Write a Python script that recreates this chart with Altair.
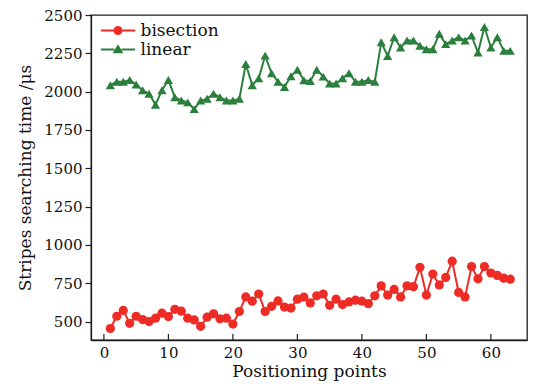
import altair as alt
import pandas as pd

positions = list(range(1, 64))
bisection = [455, 535, 573, 489, 535, 513, 500, 522, 555, 533,
             580, 568, 522, 511, 469, 529, 551, 518, 522, 484,
             566, 661, 633, 680, 566, 600, 635, 595, 588, 646,
             660, 622, 668, 680, 606, 646, 611, 628, 640, 633,
             617, 668, 733, 673, 710, 661, 733, 728, 854, 673,
             810, 739, 788, 894, 690, 661, 859, 779, 859, 817,
             801, 783, 777]
linear = [2042, 2064, 2064, 2076, 2047, 2009, 1987, 1915, 2009, 2076,
          1964, 1942, 1930, 1886, 1942, 1953, 1987, 1964, 1942, 1942,
          1953, 2180, 2042, 2087, 2235, 2120, 2064, 2031, 2100, 2143,
          2075, 2070, 2143, 2098, 2053, 2053, 2087, 2120, 2064, 2064,
          2076, 2064, 2322, 2232, 2355, 2288, 2333, 2333, 2299, 2277,
          2277, 2377, 2310, 2333, 2355, 2333, 2366, 2255, 2422, 2288,
          2355, 2266, 2266]
series_names = ["bisection", "linear"]
x_ticks = [0, 10, 20, 30, 40, 50, 60]
y_ticks = [500, 750, 1000, 1250, 1500, 1750, 2000, 2250, 2500]

df = pd.DataFrame({
    "x": positions + positions,
    "y": bisection + linear,
    "series": [series_names[0]] * len(bisection) + [series_names[1]] * len(linear),
})
ticks_df = pd.DataFrame({"x": x_ticks})

colors = ["#ee2b24", "#2b7f3d"]
font = "DejaVu Serif"
ink = "#1e1e1e"

xscale = alt.Scale(domain=[-2, 65.6], nice=False, zero=False)
yscale = alt.Scale(domain=[380, 2500], nice=False, zero=False)

xenc = alt.X("x:Q", scale=xscale,
             axis=alt.Axis(values=x_ticks, title="Positioning points", tickSize=0, format="d",
                           labelPadding=5, titlePadding=3, grid=False))
yenc = alt.Y("y:Q", scale=yscale,
             axis=alt.Axis(values=y_ticks, title="Stripes searching time /μs", tickSize=6, format="d",
                           labelPadding=3, titlePadding=9, grid=False))
color_plain = alt.Color("series:N", scale=alt.Scale(domain=series_names, range=colors), legend=None)

lines = alt.Chart(df).mark_line(strokeWidth=2).encode(x=xenc, y=yenc, color=color_plain)
points = alt.Chart(df).mark_point(filled=True, opacity=1, size=85).encode(
    x=xenc, y=yenc, color=color_plain,
    shape=alt.Shape("series:N", scale=alt.Scale(domain=series_names, range=["circle", "triangle-up"]), legend=None),
)

inner_ticks = alt.Chart(ticks_df).mark_rule(color=ink, strokeWidth=1.2).encode(
    x=xenc, y=alt.value(325), y2=alt.value(319)
)

legend_paths = [
    "M-3.8,-0.2H-0.95V0.2H-3.8Z M0.95,-0.2H3.8V0.2H0.95Z M1,0A1,1 0 1,1 -1,0A1,1 0 1,1 1,0Z",
    "M-3.8,-0.2H-0.8V0.2H-3.8Z M0.8,-0.2H3.8V0.2H0.8Z M0,-1.15L1.2,0.85L-1.2,0.85Z",
]
leg = alt.Legend(title=None, orient="none", legendX=18.5, legendY=7, labelFont=font,
                 labelFontSize=17, labelOffset=14, labelColor="#111", symbolSize=81,
                 rowPadding=1, padding=0)
legend_layer = alt.Chart(df).transform_filter("false").mark_point(filled=True, size=81, opacity=1).encode(
    x=xenc, y=yenc,
    color=alt.Color("series:N", scale=alt.Scale(domain=series_names, range=colors), legend=leg),
    shape=alt.Shape("series:N", scale=alt.Scale(domain=series_names, range=legend_paths), legend=leg),
)

chart = alt.layer(lines, points, inner_ticks, legend_layer).resolve_scale(
    color="independent", shape="independent"
).properties(
    width=436, height=325, background="white",
    padding={"left": 91, "top": 15, "right": 7, "bottom": 50},
    autosize=alt.AutoSizeParams(type="none"),
).configure_view(
    stroke=ink, strokeWidth=1.3
).configure_axis(
    labelFont=font, labelFontSize=15, labelColor="#111",
    titleFont=font, titleFontSize=17, titleFontWeight="normal", titleColor="#111",
    domainColor=ink, domainWidth=1.3, tickColor=ink, tickWidth=1.2,
)

chart.save("out.html", embed_options={"renderer": "svg", "actions": False})
